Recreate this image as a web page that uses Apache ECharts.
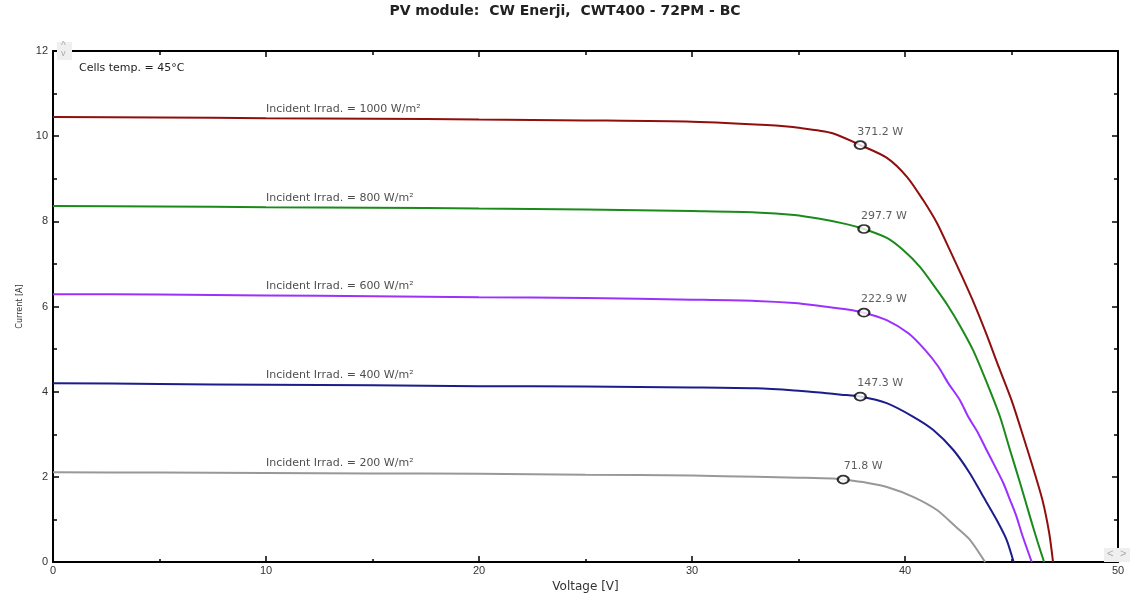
<!DOCTYPE html>
<html>
<head>
<meta charset="utf-8">
<script src="https://cdn.jsdelivr.net/npm/echarts@6/dist/echarts.min.js"></script>
<style>html,body{margin:0;padding:0;background:#fff;overflow:hidden}#c{width:1130px;height:594px;display:block}</style>
</head>
<body>
<div id="c"></div>
<script>
// ---- data ----
var irrad1000 = [[0,10.45],[5,10.44],[10,10.42],[15,10.41],[20,10.39],[25,10.37],[30,10.34],[33.5,10.26],[35.1,10.19],[36.6,10.07],[37.9,9.79],[39.15,9.49],[40.1,9.04],[40.85,8.50],[41.5,7.96],[42.1,7.33],[42.6,6.79],[43.2,6.12],[43.8,5.38],[44.4,4.58],[45.0,3.80],[45.5,3.03],[46.0,2.23],[46.45,1.46],[46.77,0.68],[46.95,0]];
var irrad800 = [[0,8.36],[5,8.35],[10,8.33],[15,8.32],[20,8.30],[25,8.28],[30,8.24],[33,8.21],[34.8,8.15],[36.0,8.06],[37.2,7.94],[38.07,7.82],[39.15,7.61],[39.9,7.33],[40.7,6.93],[41.5,6.39],[42.0,6.03],[42.58,5.55],[43.19,4.98],[43.85,4.20],[44.46,3.41],[44.93,2.63],[45.4,1.86],[45.87,1.06],[46.22,0.48],[46.53,0]];
var irrad600 = [[0,6.29],[5,6.28],[10,6.26],[15,6.24],[20,6.22],[25,6.20],[30,6.16],[33,6.13],[34.8,6.08],[36.2,6.00],[37.3,5.93],[38.07,5.855],[39.14,5.68],[40.16,5.37],[40.94,4.98],[41.56,4.59],[42.03,4.20],[42.58,3.80],[42.97,3.41],[43.44,3.02],[43.83,2.63],[44.23,2.24],[44.62,1.85],[44.93,1.46],[45.24,1.06],[45.48,0.67],[45.95,0]];
var irrad400 = [[0,4.20],[5,4.18],[10,4.16],[15,4.15],[20,4.13],[25,4.12],[30,4.10],[33,4.08],[34.8,4.03],[36.2,3.97],[37.0,3.93],[37.9,3.885],[39.14,3.73],[40.39,3.41],[41.33,3.10],[42.27,2.63],[43.05,2.08],[43.68,1.53],[44.3,0.99],[44.77,0.52],[45.1,0]];
var irrad200 = [[0,2.11],[5,2.10],[10,2.09],[15,2.08],[20,2.07],[25,2.05],[30,2.03],[33,2.00],[35,1.98],[36.6,1.96],[37.1,1.935],[38.2,1.86],[39.15,1.76],[40.38,1.53],[41.5,1.22],[42.4,0.82],[43.05,0.52],[43.76,0]];

var curveNames = ['Incident Irrad. = 1000 W/m²','Incident Irrad. = 800 W/m²','Incident Irrad. = 600 W/m²','Incident Irrad. = 400 W/m²','Incident Irrad. = 200 W/m²'];
var mppV = [37.9, 38.07, 38.07, 37.9, 37.1];
var mppI = [9.79, 7.82, 5.855, 3.885, 1.935];
var mppLabels = ['371.2 W','297.7 W','222.9 W','147.3 W','71.8 W'];
var xTicks = [0,10,20,30,40,50];
var yTicks = [0,2,4,6,8,10,12];

var curves = [irrad1000, irrad800, irrad600, irrad400, irrad200];
var colors = ['#8f0f0f','#1a8a1a','#9b30ff','#1c1c8c','#989898'];
var FONT = 'DejaVu Sans, Verdana, sans-serif';

var series = [];
curves.forEach(function(c, i){
  series.push({
    type:'line', data:c, showSymbol:false, smooth:0.25,
    lineStyle:{color:colors[i], width:2}, silent:true, z:2
  });
});
// curve labels, placed just above the curve at V = 10
series.push({
  type:'scatter', symbolSize:0, silent:true, z:3,
  data: curves.map(function(c,i){ return {value:[10, c[2][1] + 0.22], name:curveNames[i]}; }),
  label:{show:true, position:'right', distance:0, formatter:'{b}', fontSize:11, color:'#222', fontFamily:FONT}
});
// MPP markers
series.push({
  type:'scatter', symbol:'circle', symbolSize:[11,8], z:5, silent:true,
  itemStyle:{color:'#fff', borderColor:'#000', borderWidth:2},
  data: mppV.map(function(v,i){ return {value:[v, mppI[i]], name:mppLabels[i]}; }),
  label:{show:true, position:'top', distance:3, offset:[20,0], formatter:'{b}', fontSize:11, color:'#333', fontFamily:FONT}
});

var axisFont = {fontSize:11, color:'#333', fontFamily:'Liberation Sans, Arial, sans-serif'};
var chart = echarts.init(document.getElementById('c'), null, {renderer:'canvas'});
chart.setOption({
  animation:false,
  backgroundColor:'#fff',
  title:[
    {text:'PV module:  CW Enerji,  CWT400 - 72PM - BC', left:'center', top:-1,
     textStyle:{fontSize:14, fontWeight:'bold', color:'#222', fontFamily:FONT}},
    {text:'Cells temp. = 45°C', left:74, top:58,
     textStyle:{fontSize:11, fontWeight:'normal', color:'#222', fontFamily:FONT}}
  ],
  grid:{left:53, right:12, top:51, bottom:32, containLabel:false, outerBoundsMode:'none'},
  xAxis:[
    {type:'value', min:xTicks[0], max:xTicks[xTicks.length-1], interval:10, position:'bottom',
     name:'Voltage [V]', nameLocation:'middle', nameGap:11,
     nameTextStyle:{fontSize:12, color:'#333', fontFamily:FONT},
     axisLine:{show:true, onZero:false, lineStyle:{color:'#000', width:2}},
     axisTick:{show:true, inside:true, length:6, lineStyle:{color:'#000', width:1.5}},
     minorTick:{show:true, splitNumber:2, length:3, lineStyle:{color:'#000', width:1.5}},
     axisLabel:Object.assign({margin:3}, axisFont), splitLine:{show:false}},
    {type:'value', min:xTicks[0], max:xTicks[xTicks.length-1], interval:10, position:'top',
     axisLine:{show:true, onZero:false, lineStyle:{color:'#000', width:2}},
     axisTick:{show:true, inside:true, length:6, lineStyle:{color:'#000', width:1.5}},
     minorTick:{show:true, splitNumber:2, length:4, lineStyle:{color:'#000', width:1.5}},
     axisLabel:{show:false}, splitLine:{show:false}}
  ],
  yAxis:[
    {type:'value', min:yTicks[0], max:yTicks[yTicks.length-1], interval:2, position:'left',
     name:'Current [A]', nameLocation:'middle', nameGap:29, nameRotate:90,
     nameTextStyle:{fontSize:8, color:'#333', fontFamily:FONT},
     axisLine:{show:true, onZero:false, lineStyle:{color:'#000', width:2}},
     axisTick:{show:true, inside:true, length:6, lineStyle:{color:'#000', width:1.5}},
     minorTick:{show:true, splitNumber:2, length:4, lineStyle:{color:'#000', width:1.5}},
     axisLabel:Object.assign({margin:5}, axisFont), splitLine:{show:false}},
    {type:'value', min:yTicks[0], max:yTicks[yTicks.length-1], interval:2, position:'right',
     axisLine:{show:true, onZero:false, lineStyle:{color:'#000', width:2}},
     axisTick:{show:true, inside:true, length:6, lineStyle:{color:'#000', width:1.5}},
     minorTick:{show:true, splitNumber:2, length:4, lineStyle:{color:'#000', width:1.5}},
     axisLabel:{show:false}, splitLine:{show:false}}
  ],
  graphic:[
    {type:'rect', shape:{x:57, y:42, width:15, height:18}, style:{fill:'#efefef'}, z:10},
    {type:'text', left:61, top:41, style:{text:'^', fill:'#aaa', font:'10px Liberation Sans'}, z:11},
    {type:'text', left:61, top:49, style:{text:'v', fill:'#aaa', font:'9px Liberation Sans'}, z:11},
    {type:'rect', shape:{x:1104, y:548, width:26, height:14}, style:{fill:'#efefef'}, z:10},
    {type:'text', left:1107, top:548, style:{text:'<', fill:'#aaa', font:'11px Liberation Sans'}, z:11},
    {type:'text', left:1120, top:548, style:{text:'>', fill:'#aaa', font:'11px Liberation Sans'}, z:11}
  ],
  series:series
});
</script>
</body>
</html>
